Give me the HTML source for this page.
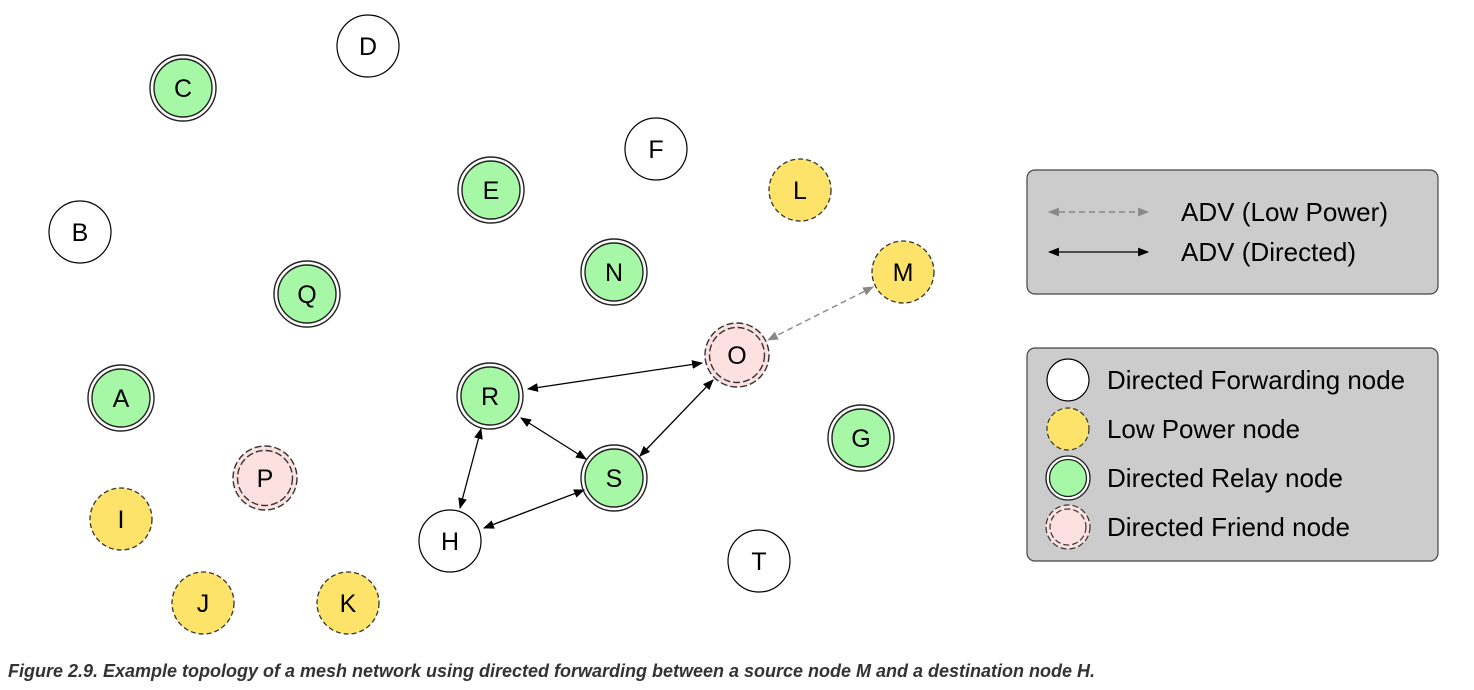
<!DOCTYPE html>
<html><head><meta charset="utf-8"><style>
html,body{margin:0;padding:0;background:#fff;width:1474px;height:690px;overflow:hidden}
svg{display:block}
text{font-family:"Liberation Sans",Arial,sans-serif}
</style></head><body>
<svg width="1474" height="690" viewBox="0 0 1474 690" xmlns="http://www.w3.org/2000/svg">
<defs>
<marker id="ab" viewBox="0 0 10 10" refX="9" refY="5" markerWidth="11" markerHeight="11" orient="auto-start-reverse" markerUnits="userSpaceOnUse"><path d="M0,1 L10,5 L0,9 z" fill="#000"/></marker>
<marker id="ag" viewBox="0 0 10 10" refX="9" refY="5" markerWidth="11" markerHeight="11" orient="auto-start-reverse" markerUnits="userSpaceOnUse"><path d="M0,1 L10,5 L0,9 z" fill="#888"/></marker>
</defs>
<g font-size="25" text-anchor="middle" fill="#000">
<g fill="#fff" stroke="#000" stroke-width="1.2">
<circle cx="368" cy="46" r="31"/><circle cx="656" cy="149" r="31"/><circle cx="80" cy="232" r="31"/>
<circle cx="450" cy="541" r="31"/><circle cx="759" cy="561" r="31"/>
</g>
<g fill="#fde36a" stroke="#333" stroke-width="1.3" stroke-dasharray="5,3">
<circle cx="800" cy="190" r="31"/><circle cx="903" cy="272" r="31"/><circle cx="121" cy="519" r="31"/>
<circle cx="203" cy="603" r="31"/><circle cx="348" cy="603" r="31"/>
</g>
<g stroke="#222" stroke-width="1.4">
<g fill="#fff"><circle cx="183" cy="88" r="33"/><circle cx="491" cy="190" r="33"/><circle cx="614" cy="272" r="33"/><circle cx="307" cy="294" r="33"/><circle cx="121" cy="398" r="33"/><circle cx="490" cy="396" r="33"/><circle cx="861" cy="438" r="33"/><circle cx="614" cy="478" r="33"/></g>
<g fill="#a6f8a6"><circle cx="183" cy="88" r="29"/><circle cx="491" cy="190" r="29"/><circle cx="614" cy="272" r="29"/><circle cx="307" cy="294" r="29"/><circle cx="121" cy="398" r="29"/><circle cx="490" cy="396" r="29"/><circle cx="861" cy="438" r="29"/><circle cx="614" cy="478" r="29"/></g>
</g>
<g fill="#fde0e0" stroke="#333" stroke-width="1.4" stroke-dasharray="7,3">
<circle cx="737" cy="355" r="32"/><circle cx="265" cy="478" r="32"/>
</g>
<g fill="none" stroke="#333" stroke-width="1.4" stroke-dasharray="7,3">
<circle cx="737" cy="355" r="27.5"/><circle cx="265" cy="478" r="27.5"/>
</g>
<g>
<text x="368" y="55">D</text><text x="183" y="97">C</text><text x="656" y="158">F</text><text x="491" y="199">E</text>
<text x="800" y="199">L</text><text x="80" y="241">B</text><text x="614" y="281">N</text><text x="903" y="281">M</text>
<text x="307" y="303">Q</text><text x="737" y="364">O</text><text x="121" y="407">A</text><text x="490" y="405">R</text>
<text x="861" y="447">G</text><text x="265" y="487">P</text><text x="614" y="487">S</text><text x="121" y="528">I</text>
<text x="450" y="550">H</text><text x="759" y="570">T</text><text x="203" y="612">J</text><text x="348" y="612">K</text>
</g>
</g>
<g stroke="#000" stroke-width="1.3" fill="none">
<line x1="528" y1="389" x2="702" y2="363" marker-start="url(#ab)" marker-end="url(#ab)"/>
<line x1="521" y1="418" x2="586" y2="459" marker-start="url(#ab)" marker-end="url(#ab)"/>
<line x1="481" y1="429" x2="460" y2="508" marker-start="url(#ab)" marker-end="url(#ab)"/>
<line x1="484" y1="528" x2="584" y2="490" marker-start="url(#ab)" marker-end="url(#ab)"/>
<line x1="640" y1="456" x2="713" y2="380" marker-start="url(#ab)" marker-end="url(#ab)"/>
</g>
<line x1="873" y1="287" x2="768" y2="340" stroke="#888" stroke-width="1.4" stroke-dasharray="6,4" marker-start="url(#ag)" marker-end="url(#ag)"/>
<rect x="1027" y="170" width="411" height="124" rx="8" fill="#cccccc" stroke="#444" stroke-width="1.2"/>
<line x1="1049" y1="212" x2="1148" y2="212" stroke="#888" stroke-width="1.4" stroke-dasharray="6,4" marker-start="url(#ag)" marker-end="url(#ag)"/>
<line x1="1049" y1="252" x2="1148" y2="252" stroke="#000" stroke-width="1.3" marker-start="url(#ab)" marker-end="url(#ab)"/>
<g font-size="26" fill="#000">
<text x="1181" y="221" textLength="207" lengthAdjust="spacingAndGlyphs">ADV (Low Power)</text>
<text x="1181" y="261" textLength="175" lengthAdjust="spacingAndGlyphs">ADV (Directed)</text>
</g>
<rect x="1027" y="348" width="411" height="213" rx="8" fill="#cccccc" stroke="#444" stroke-width="1.2"/>
<circle cx="1068" cy="380" r="21" fill="#fff" stroke="#000" stroke-width="1.2"/>
<circle cx="1068" cy="429" r="21" fill="#fde36a" stroke="#333" stroke-width="1.2" stroke-dasharray="5,3"/>
<circle cx="1068" cy="478" r="22" fill="#fff" stroke="#222" stroke-width="1.3"/>
<circle cx="1068" cy="478" r="18.5" fill="#a6f8a6" stroke="#222" stroke-width="1.3"/>
<circle cx="1068" cy="527" r="22" fill="#fde0e0" stroke="#333" stroke-width="1.2" stroke-dasharray="6,3"/>
<circle cx="1068" cy="527" r="18" fill="none" stroke="#333" stroke-width="1.2" stroke-dasharray="6,3"/>
<g font-size="26" fill="#000">
<text x="1107" y="389" textLength="298" lengthAdjust="spacingAndGlyphs">Directed Forwarding node</text>
<text x="1107" y="438" textLength="193" lengthAdjust="spacingAndGlyphs">Low Power node</text>
<text x="1107" y="487" textLength="236" lengthAdjust="spacingAndGlyphs">Directed Relay node</text>
<text x="1107" y="536" textLength="243" lengthAdjust="spacingAndGlyphs">Directed Friend node</text>
</g>
<text x="8" y="677" font-size="18" font-weight="bold" font-style="italic" fill="#333" textLength="1087" lengthAdjust="spacingAndGlyphs">Figure 2.9. Example topology of a mesh network using directed forwarding between a source node M and a destination node H.</text>
</svg>
</body></html>
